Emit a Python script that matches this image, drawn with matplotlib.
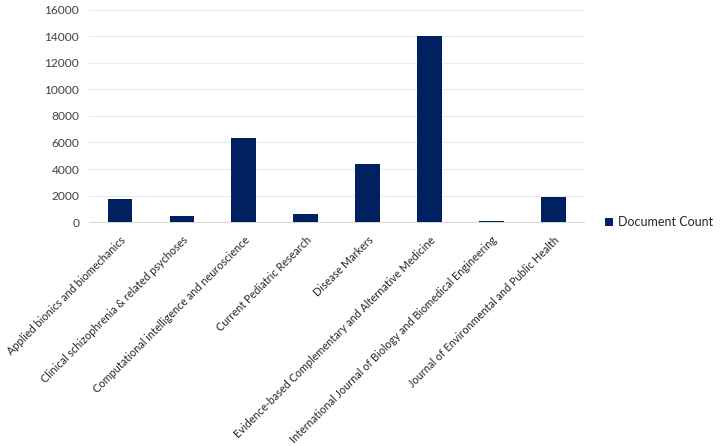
import matplotlib.pyplot as plt

journals = [
    'Applied bionics and biomechanics',
    'Clinical schizophrenia & related psychoses',
    'Computational intelligence and neuroscience',
    'Current Pediatric Research',
    'Disease Markers',
    'Evidence-based Complementary and Alternative Medicine',
    'International Journal of Biology and Biomedical Engineering',
    'Journal of Environmental and Public Health',
]
doc_counts = [1750, 430, 6350, 630, 4400, 14000, 100, 1890]
y_ticks = [0, 2000, 4000, 6000, 8000, 10000, 12000, 14000, 16000]

plt.rcParams['font.family'] = ['Lato', 'DejaVu Sans']

fig = plt.figure(figsize=(7.24, 4.46), dpi=100)
ax = fig.add_axes([0.123, 0.502, 0.684, 0.476])

x = list(range(len(journals)))
ax.bar(x, doc_counts, width=0.4, color='#002060', label='Document Count', zorder=3)

ax.set_xlim(-0.5, len(journals) - 0.5)
ax.set_ylim(0, 16000)
ax.set_yticks(y_ticks)
ax.set_yticklabels([str(v) for v in y_ticks], fontsize=8.6, color='#404040')
ax.set_xticks(x)
ax.set_xticklabels(journals, rotation=45, ha='right', rotation_mode='anchor',
                   fontsize=7.8, color='#262626')
ax.tick_params(axis='y', length=0, pad=7)
ax.tick_params(axis='x', length=0, pad=9)

ax.grid(axis='y', color='#ececec', linewidth=0.8, zorder=0)
for s in ['top', 'right', 'left']:
    ax.spines[s].set_visible(False)
ax.spines['bottom'].set_color('#d9d9d9')

ax.legend(loc='center left', bbox_to_anchor=(1.02, 0.0), frameon=False,
          fontsize=9, handlelength=0.6, handleheight=0.6, handletextpad=0.4,
          labelcolor='#262626')

fig.savefig('out.png', dpi=100)
